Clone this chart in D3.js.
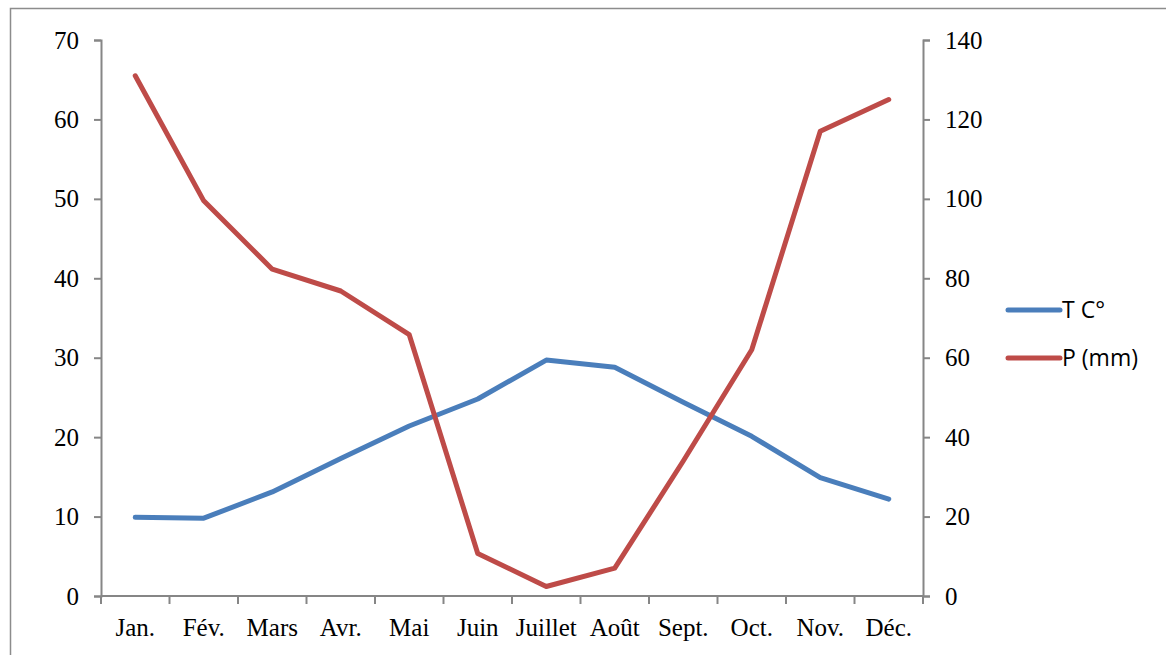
<!DOCTYPE html>
<html><head><meta charset="utf-8">
<script src="https://cdn.jsdelivr.net/npm/d3@7"></script>
<style>body{margin:0;background:#fff}svg{display:block}</style>
</head><body>
<script>
const months = ["Jan.","Fév.","Mars","Avr.","Mai","Juin","Juillet","Août","Sept.","Oct.","Nov.","Déc."];
const tempC = [9.9, 9.8, 13.1, 17.3, 21.4, 24.8, 29.7, 28.8, 24.4, 20.1, 14.9, 12.2];
const precipMm = [131, 99.5, 82.3, 76.8, 65.8, 10.7, 2.4, 7, 34, 62, 117, 125];
const leftTicks = [0,10,20,30,40,50,60,70];
const rightTicks = [0,20,40,60,80,100,120,140];
const seriesNames = ["T C°", "P (mm)"];

const W = 1166, H = 655;
const svg = d3.select("body").append("svg").attr("width", W).attr("height", H);
svg.append("rect").attr("x",10.5).attr("y",8.5).attr("width",1170).attr("height",660)
  .attr("fill","none").attr("stroke","#8c8c8c").attr("stroke-width",1.5);

const x0 = 101, x1 = 923, yTop = 40, yBot = 596;
const x = d3.scaleBand().domain(months).range([x0, x1]);
const yL = d3.scaleLinear().domain([0,70]).range([yBot, yTop]);
const yR = d3.scaleLinear().domain([0,140]).range([yBot, yTop]);
const axisColor = "#868686";
const serif = "'Liberation Serif','Times New Roman',serif";

function styleAxis(g){
  g.selectAll("path,line").attr("stroke", axisColor).attr("stroke-width", 2);
  g.selectAll("text").attr("font-family", serif).attr("font-size", 25).attr("fill", "#000");
}
const gL = svg.append("g").attr("transform",`translate(${x0},0)`)
  .call(d3.axisLeft(yL).tickValues(leftTicks).tickSize(7).tickSizeOuter(7).tickPadding(15));
styleAxis(gL);
const gR = svg.append("g").attr("transform",`translate(${x1},0)`)
  .call(d3.axisRight(yR).tickValues(rightTicks).tickSize(7).tickSizeOuter(7).tickPadding(15));
styleAxis(gR);
const gX = svg.append("g").attr("transform",`translate(0,${yBot})`)
  .call(d3.axisBottom(x).tickSize(0).tickPadding(22));
styleAxis(gX);
gX.select("path.domain").attr("d", `M${x0},0H${x1}`);
const bounds = months.map((m)=>x(m)).concat([x1]);
gX.selectAll("line.sep").data(bounds).enter().append("line").attr("class","sep")
  .attr("x1",d=>d).attr("x2",d=>d).attr("y1",0).attr("y2",8)
  .attr("stroke",axisColor).attr("stroke-width",2);

const cx = m => x(m) + x.bandwidth()/2;
const lineT = d3.line().x((d,i)=>cx(months[i])).y(d=>yL(d));
const lineP = d3.line().x((d,i)=>cx(months[i])).y(d=>yR(d));
const colors = ["#4a7ebb", "#be4b48"];
svg.append("path").attr("d", lineT(tempC)).attr("fill","none").attr("stroke",colors[0])
  .attr("stroke-width",5).attr("stroke-linejoin","round").attr("stroke-linecap","round");
svg.append("path").attr("d", lineP(precipMm)).attr("fill","none").attr("stroke",colors[1])
  .attr("stroke-width",5).attr("stroke-linejoin","round").attr("stroke-linecap","round");

const leg = svg.append("g");
seriesNames.forEach((n,i)=>{
  const y = 310 + i*48;
  leg.append("line").attr("x1",1008).attr("x2",1060).attr("y1",y).attr("y2",y)
    .attr("stroke",colors[i]).attr("stroke-width",5).attr("stroke-linecap","round");
  leg.append("text").attr("x",1062).attr("y",y+8).text(n)
    .attr("font-family","'Open Sans','Noto Sans',sans-serif").attr("font-size",23).attr("fill","#000");
});
</script>
</body></html>
